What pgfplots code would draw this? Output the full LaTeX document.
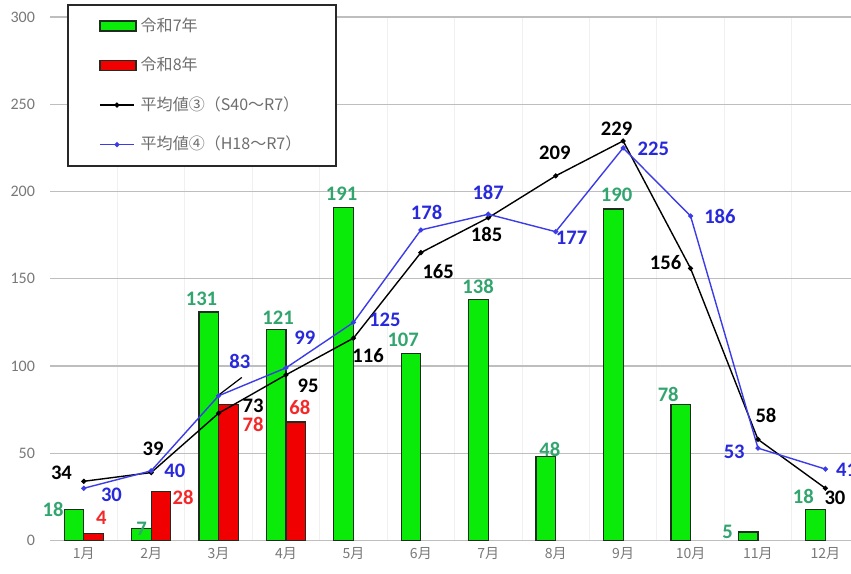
\documentclass[border=0pt]{standalone}
\usepackage{pgfplots}
\pgfplotsset{compat=1.18}
\usepackage{fontspec}
\setmainfont{Carlito}
\newfontfamily\jp{Noto Sans CJK JP}
\definecolor{barGreen}{RGB}{10,235,10}
\definecolor{barEdge}{RGB}{30,45,30}
\definecolor{barRed}{RGB}{240,0,0}
\definecolor{lblGreen}{RGB}{50,165,110}
\definecolor{lblBlue}{RGB}{40,40,220}
\definecolor{lblRed}{RGB}{245,40,40}
\definecolor{lineBlue}{RGB}{60,60,230}
\definecolor{gridgray}{RGB}{190,190,190}
\definecolor{ticktext}{RGB}{120,120,120}
\definecolor{legendtext}{RGB}{110,110,110}
\definecolor{legendborder}{RGB}{40,40,40}
\pgfplotsset{barlegend/.style={legend image code/.code={\draw[##1, line width=0.8pt] (0pt,-2.5pt) rectangle (18pt,2.5pt);}}}
\begin{document}
\begin{tikzpicture}
\tikzset{lbl/.style={font=\bfseries\fontsize{10.3}{11}\selectfont, inner sep=0pt}}
\begin{axis}[
  scale only axis, width=400pt, height=261.5pt,
  xmin=-0.5, xmax=11.38, ymin=0, ymax=300,
  ytick={0,50,...,300},
  xtick={0,...,11},
  xticklabels={1月,2月,3月,4月,5月,6月,7月,8月,9月,10月,11月,12月},
  minor xtick={0.5,1.5,...,10.5},
  ymajorgrids, xminorgrids,
  major grid style={draw=gridgray, line width=0.6pt},
  minor grid style={draw=gray!12, line width=0.5pt},
  axis line style={draw=none},
  major tick length=0pt, minor tick length=0pt,
  tick style={draw=none},
  /pgf/number format/assume math mode=true,
  yticklabel style={font=\fontsize{8}{9}\selectfont, text=ticktext, xshift=-4pt},
  xticklabel style={font=\jp\fontsize{7}{8}\selectfont, text=ticktext},
  clip=false,
  legend style={at={(0.0212,1.0249)}, anchor=north west, draw=legendborder, line width=1pt,
    fill=white, font=\jp\fontsize{8}{9}\selectfont, text=legendtext,
    inner xsep=15.5pt, inner ysep=4.5pt, row sep=7.4pt},
  legend cell align=left,
]
\addplot[ybar, bar width=9.8pt, bar shift=-4.9pt, fill=barGreen, draw=barEdge, line width=0.6pt, barlegend]
  coordinates {(0,18) (1,7) (2,131) (3,121) (4,191) (5,107) (6,138) (7,48) (8,190) (9,78) (10,5) (11,18)};
\addlegendentry{令和7年}
\addplot[ybar, bar width=9.8pt, bar shift=4.9pt, fill=barRed, draw=barEdge, line width=0.6pt, barlegend]
  coordinates {(0,4) (1,28) (2,78) (3,68)};
\addlegendentry{令和8年}
\addplot[black, line width=0.7pt, mark=*, mark size=0.9pt]
  coordinates {(0,34) (1,39) (2,73) (3,95) (4,116) (5,165) (6,185) (7,209) (8,229) (9,156) (10,58) (11,30)};
\addlegendentry{平均値③（S40～R7）}
\addplot[lineBlue, line width=0.7pt, mark=*, mark size=0.9pt, mark options={fill=lineBlue, draw=lineBlue}]
  coordinates {(0,30) (1,40) (2,83) (3,99) (4,125) (5,178) (6,187) (7,177) (8,225) (9,186) (10,53) (11,41)};
\addlegendentry{平均値④（H18～R7）}
% leader line
\draw[black, line width=0.6pt] (axis cs:1.973,82.6) -- (axis cs:2.344,93.5);
% black labels
\node[lbl] at (axis cs:-0.331,38.8) {34};
\node[lbl] at (axis cs:1.028,52.6) {39};
\node[lbl] at (axis cs:2.512,77.4) {73};
\node[lbl] at (axis cs:3.328,88.9) {95};
\node[lbl] at (axis cs:4.218,106.1) {116};
\node[lbl] at (axis cs:5.257,153.9) {165};
\node[lbl] at (axis cs:5.975,175.5) {185};
\node[lbl] at (axis cs:6.988,222.4) {209};
\node[lbl] at (axis cs:7.903,235.8) {229};
\node[lbl] at (axis cs:8.630,159.1) {156};
\node[lbl] at (axis cs:10.119,71.7) {58};
\node[lbl] at (axis cs:11.142,24.5) {30};
% blue labels
\node[lbl, text=lblBlue] at (axis cs:0.411,26.4) {30};
\node[lbl, text=lblBlue] at (axis cs:1.350,39.8) {40};
\node[lbl, text=lblBlue] at (axis cs:2.315,102.9) {83};
\node[lbl, text=lblBlue] at (axis cs:3.279,116.3) {99};
\node[lbl, text=lblBlue] at (axis cs:4.466,126.4) {125};
\node[lbl, text=lblBlue] at (axis cs:5.085,188.0) {178};
\node[lbl, text=lblBlue] at (axis cs:5.999,199.5) {187};
\node[lbl, text=lblBlue] at (axis cs:7.236,173.7) {177};
\node[lbl, text=lblBlue] at (axis cs:8.447,224.7) {225};
\node[lbl, text=lblBlue] at (axis cs:9.436,186.0) {186};
\node[lbl, text=lblBlue] at (axis cs:9.648,50.7) {53};
\node[lbl, text=lblBlue] at (axis cs:11.316,40.3) {41};
% green labels
\node[lbl, text=lblGreen] at (axis cs:-0.455,17.8) {18};
\node[lbl, text=lblGreen] at (axis cs:0.856,6.8) {7};
\node[lbl, text=lblGreen] at (axis cs:1.746,138.3) {131};
\node[lbl, text=lblGreen] at (axis cs:2.883,127.8) {121};
\node[lbl, text=lblGreen] at (axis cs:3.823,198.5) {191};
\node[lbl, text=lblGreen] at (axis cs:4.738,115.3) {107};
\node[lbl, text=lblGreen] at (axis cs:5.850,145.9) {138};
\node[lbl, text=lblGreen] at (axis cs:6.914,52.2) {48};
\node[lbl, text=lblGreen] at (axis cs:7.903,197.9) {190};
\node[lbl, text=lblGreen] at (axis cs:8.669,83.8) {78};
\node[lbl, text=lblGreen] at (axis cs:9.550,4.8) {5};
\node[lbl, text=lblGreen] at (axis cs:10.672,25.4) {18};
% red labels
\node[lbl, text=lblRed] at (axis cs:0.262,13.0) {4};
\node[lbl, text=lblRed] at (axis cs:1.473,24.5) {28};
\node[lbl, text=lblRed] at (axis cs:2.512,66.5) {78};
\node[lbl, text=lblRed] at (axis cs:3.205,76.1) {68};
\end{axis}
\pgfresetboundingbox
\path[use as bounding box] ([xshift=-25pt,yshift=-16.5pt]current axis.south west) rectangle ([yshift=8.5pt]current axis.north east);
\end{tikzpicture}
\end{document}
